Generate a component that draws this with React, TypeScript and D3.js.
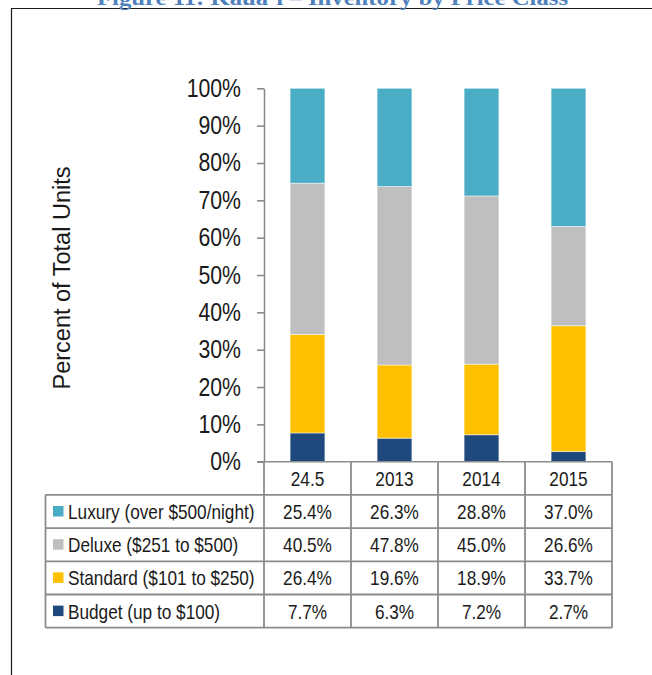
import * as d3 from "d3";
import { useRef, useEffect } from "react";

const categories = ["24.5", "2013", "2014", "2015"];
const seriesNames = [
  "Luxury (over $500/night)",
  "Deluxe ($251 to $500)",
  "Standard ($101 to $250)",
  "Budget (up to $100)",
];
const seriesKeys = ["luxury", "deluxe", "standard", "budget"];
const luxury = [25.4, 26.3, 28.8, 37.0];
const deluxe = [40.5, 47.8, 45.0, 26.6];
const standard = [26.4, 19.6, 18.9, 33.7];
const budget = [7.7, 6.3, 7.2, 2.7];
const yTicks = [0, 0.1, 0.2, 0.3, 0.4, 0.5, 0.6, 0.7, 0.8, 0.9, 1];

const colours = ["#4BACC6", "#BFBFBF", "#FFC000", "#1F497D"];
const sans = '"Liberation Sans", Arial, sans-serif';
const NARROW = 0.82; // no narrow face installed, so squeeze the regular one

function App() {
  const chartRef = useRef(null);
  const width = 652;
  const height = 675;

  useEffect(() => {
    const svg = d3.select(chartRef.current);
    svg.selectAll("*").remove();

    const values = { luxury, deluxe, standard, budget };
    const dataset = categories.map((name, i) => {
      const row = { name };
      seriesKeys.forEach((k) => (row[k] = values[k][i]));
      return row;
    });

    // stacked from the bottom: budget first
    const series = d3
      .stack()
      .keys(seriesKeys.slice().reverse())
      .offset(d3.stackOffsetExpand)(dataset);

    const plot = { left: 264, right: 612, top: 88.3, bottom: 461.7 };
    const rowH = 33.2;
    const tableLeft = 45.5;

    const x = d3
      .scaleBand()
      .domain(categories)
      .range([plot.left, plot.right])
      .paddingInner(0.6)
      .paddingOuter(0.3);

    const cell = d3.scaleBand().domain(categories).range([plot.left, plot.right]);

    const y = d3.scaleLinear().domain([0, 1]).range([plot.bottom, plot.top]);

    const colour = d3.scaleOrdinal().domain(seriesKeys).range(colours);

    // narrow text placed through a transform
    const label = (parent, tx, ty, str, anchor = "start", size = 21) =>
      parent
        .append("text")
        .attr("transform", `translate(${tx},${ty}) scale(${NARROW},1)`)
        .attr("dy", "0.36em")
        .attr("text-anchor", anchor)
        .attr("font-family", sans)
        .attr("font-size", size)
        .attr("fill", "#1a1a1a")
        .text(str);

    // Frame and title
    svg
      .append("path")
      .attr("d", `M11.5,${height} V8.5 H${width}`)
      .attr("fill", "none")
      .attr("stroke", "#1a1a1a")
      .attr("stroke-width", 1.2);

    svg
      .append("text")
      .attr("x", 97)
      .attr("y", 5)
      .attr("textLength", 471)
      .attr("lengthAdjust", "spacingAndGlyphs")
      .attr("font-family", '"Liberation Serif", "DejaVu Serif", serif')
      .attr("font-weight", "bold")
      .attr("font-size", 21)
      .attr("fill", "#4F81BD")
      .text("Figure 11: Kaua\u2018i \u2013 Inventory by Price Class");

    // Bars
    const g = svg
      .append("g")
      .selectAll("g")
      .data(series)
      .join("g")
      .attr("fill", (d) => colour(d.key));

    g.selectAll("rect")
      .data((d) => d)
      .join("rect")
      .attr("x", (d) => x(d.data.name))
      .attr("y", (d) => y(d[1]))
      .attr("width", x.bandwidth())
      .attr("height", (d) => y(d[0]) - y(d[1]))
      .attr("stroke", "#ffffff")
      .attr("stroke-opacity", 0.6)
      .attr("stroke-width", 0.8);

    // Y axis
    const tickScale = 0.85;
    const yAxis = svg
      .append("g")
      .attr("transform", `translate(${plot.left},0)`)
      .call(
        d3
          .axisLeft(y)
          .tickValues(yTicks)
          .tickFormat(d3.format(".0%"))
          .tickSize(7)
          .tickPadding(16)
          .tickSizeOuter(0),
      );
    yAxis.select(".domain").attr("stroke", "#868686").attr("stroke-width", 1.5);
    yAxis.selectAll(".tick line").attr("stroke", "#868686").attr("stroke-width", 1.5);
    yAxis
      .selectAll(".tick text")
      .attr("font-family", sans)
      .attr("font-size", 25)
      .attr("fill", "#1a1a1a")
      .attr("x", -23 / tickScale)
      .attr("transform", `scale(${tickScale},1)`);

    // Y label
    svg
      .append("text")
      .attr("transform", `translate(70,278) rotate(-90)`)
      .attr("text-anchor", "middle")
      .attr("font-family", sans)
      .attr("font-size", 23.5)
      .attr("fill", "#1a1a1a")
      .text("Percent of Total Units");

    // Data table
    const table = svg.append("g");
    const lineColour = "#8c8c8c";
    const tableBottom = plot.bottom + rowH * 5;

    // x axis line (also top of header row)
    table
      .append("line")
      .attr("x1", plot.left - 7)
      .attr("x2", plot.right)
      .attr("y1", plot.bottom)
      .attr("y2", plot.bottom)
      .attr("stroke", lineColour)
      .attr("stroke-width", 1.5);

    // horizontal row lines
    d3.range(1, 6).forEach((i) => {
      table
        .append("line")
        .attr("x1", tableLeft)
        .attr("x2", plot.right)
        .attr("y1", plot.bottom + rowH * i)
        .attr("y2", plot.bottom + rowH * i)
        .attr("stroke", lineColour)
        .attr("stroke-width", 1.8);
    });

    // vertical column lines
    const colEdges = categories.map((c) => cell(c)).concat([plot.right]);
    colEdges.forEach((cx) => {
      table
        .append("line")
        .attr("x1", cx)
        .attr("x2", cx)
        .attr("y1", plot.bottom)
        .attr("y2", tableBottom)
        .attr("stroke", lineColour)
        .attr("stroke-width", 1.8);
    });
    table
      .append("line")
      .attr("x1", tableLeft)
      .attr("x2", tableLeft)
      .attr("y1", plot.bottom + rowH)
      .attr("y2", tableBottom)
      .attr("stroke", lineColour)
      .attr("stroke-width", 1.8);

    // header labels
    categories.forEach((c) =>
      label(table, cell(c) + cell.bandwidth() / 2, plot.bottom + rowH / 2, c, "middle"),
    );

    // series rows
    seriesKeys.forEach((key, r) => {
      const cy = plot.bottom + rowH * (r + 1.5);
      table
        .append("rect")
        .attr("x", 53)
        .attr("y", cy - 5.5)
        .attr("width", 10.5)
        .attr("height", 10.5)
        .attr("fill", colour(key));
      label(table, 68, cy, seriesNames[r]);
      values[key].forEach((v, i) =>
        label(
          table,
          cell(categories[i]) + cell.bandwidth() / 2,
          cy,
          `${v.toFixed(1)}%`,
          "middle",
        ),
      );
    });
  }, []);

  return (
    <svg
      ref={chartRef}
      xmlns="http://www.w3.org/2000/svg"
      width={width}
      height={height}
      viewBox={`0 0 ${width} ${height}`}
      style={{ position: "absolute", left: 0, top: 0, background: "#fff" }}
    >
      <title>Kaua'i inventory by price class</title>
    </svg>
  );
}

export default App;
